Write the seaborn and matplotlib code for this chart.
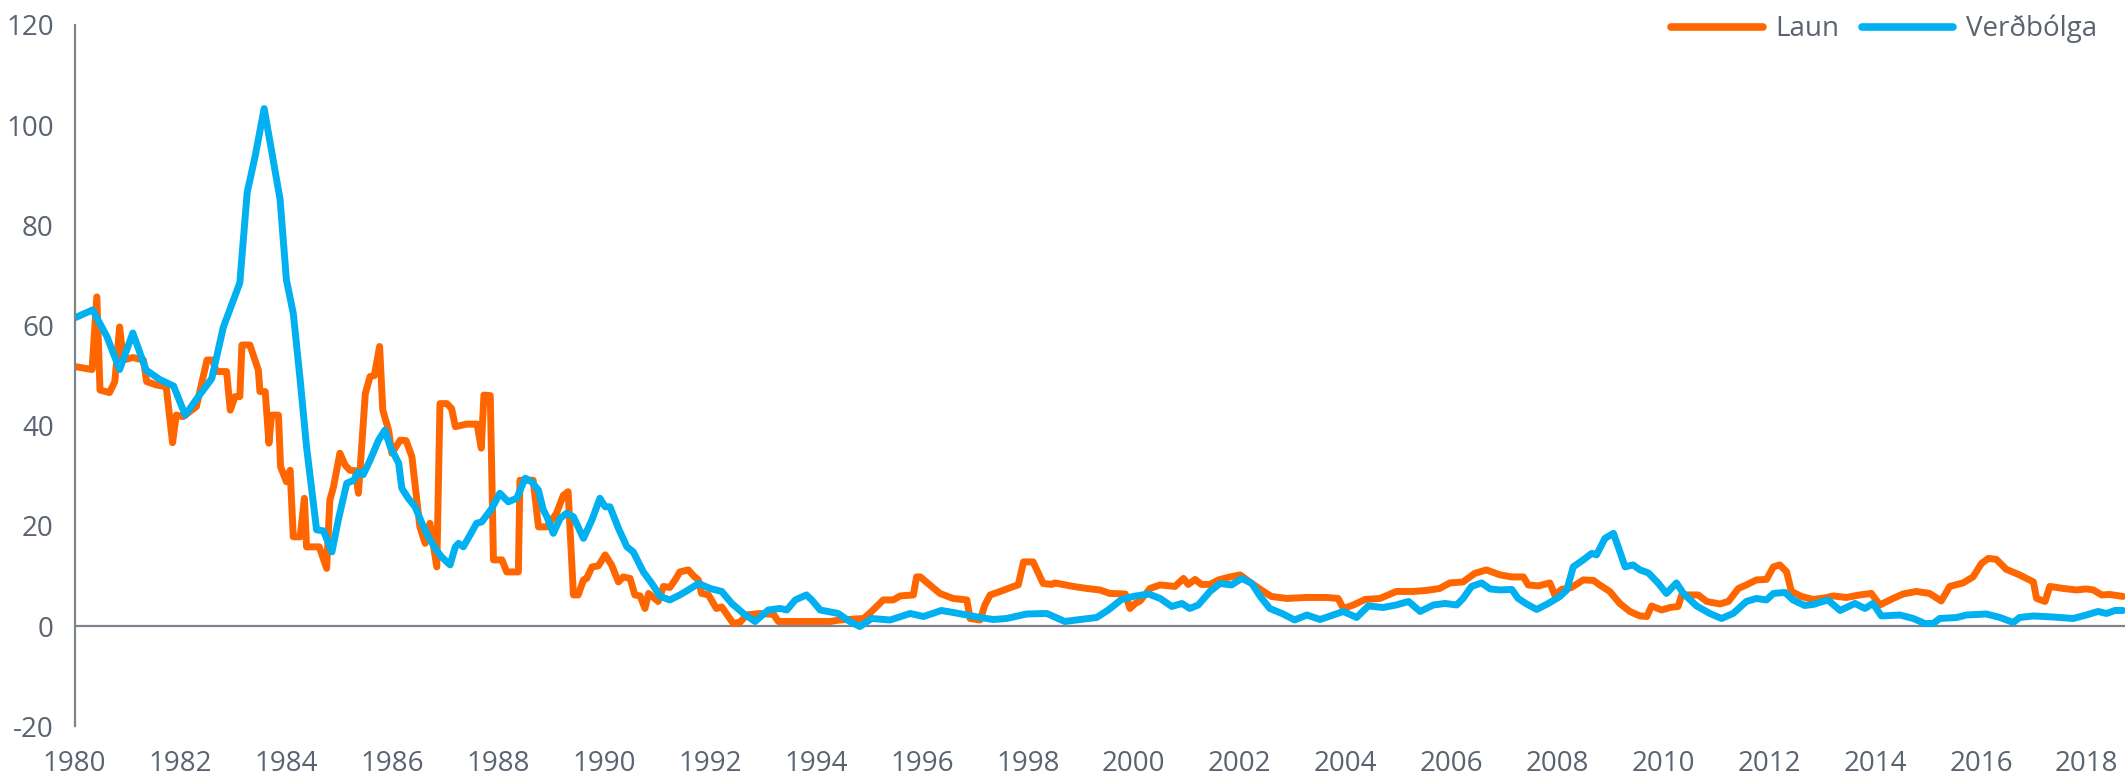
# Laun og verðbólga 1980-2018 (ársbreyting, %)
import pandas as pd
import matplotlib.pyplot as plt
import seaborn as sns

# --- data ---
laun_year = [
    1980.00, 1980.33, 1980.42, 1980.48, 1980.66, 1980.76, 1980.85, 1980.92, 1981.10, 1981.30,
    1981.36, 1981.55, 1981.73, 1981.85, 1981.92, 1982.05, 1982.30, 1982.50, 1982.60, 1982.68,
    1982.87, 1982.94, 1983.03, 1983.12, 1983.16, 1983.31, 1983.47, 1983.50, 1983.60, 1983.67,
    1983.72, 1983.85, 1983.89, 1984.00, 1984.07, 1984.13, 1984.26, 1984.34, 1984.38, 1984.62,
    1984.76, 1984.82, 1984.89, 1985.01, 1985.11, 1985.20, 1985.30, 1985.36, 1985.49, 1985.58,
    1985.66, 1985.76, 1985.82, 1985.93, 1985.99, 1986.15, 1986.26, 1986.37, 1986.52, 1986.62,
    1986.71, 1986.84, 1986.90, 1987.03, 1987.12, 1987.19, 1987.40, 1987.60, 1987.68, 1987.73,
    1987.85, 1987.91, 1988.07, 1988.16, 1988.38, 1988.41, 1988.66, 1988.76, 1988.92, 1989.10,
    1989.23, 1989.32, 1989.42, 1989.51, 1989.61, 1989.67, 1989.77, 1989.89, 1990.02, 1990.14,
    1990.27, 1990.36, 1990.49, 1990.58, 1990.68, 1990.77, 1990.84, 1991.02, 1991.12, 1991.24,
    1991.34, 1991.43, 1991.59, 1991.69, 1991.78, 1991.84, 1991.97, 1992.12, 1992.22, 1992.44,
    1992.57, 1992.69, 1992.94, 1993.20, 1993.29, 1993.70, 1994.27, 1994.45, 1994.90, 1995.05,
    1995.27, 1995.46, 1995.59, 1995.84, 1995.90, 1995.97, 1996.15, 1996.34, 1996.59, 1996.85,
    1996.91, 1997.10, 1997.19, 1997.29, 1997.48, 1997.73, 1997.82, 1997.92, 1998.10, 1998.29,
    1998.45, 1998.51, 1998.86, 1999.11, 1999.36, 1999.55, 1999.84, 1999.93, 2000.03, 2000.12,
    2000.31, 2000.50, 2000.78, 2000.94, 2001.03, 2001.16, 2001.28, 2001.44, 2001.60, 2001.82,
    2002.01, 2002.23, 2002.45, 2002.60, 2002.89, 2003.27, 2003.64, 2003.86, 2003.96, 2004.15,
    2004.37, 2004.65, 2004.96, 2005.28, 2005.53, 2005.78, 2005.97, 2006.22, 2006.44, 2006.66,
    2006.92, 2007.14, 2007.36, 2007.45, 2007.64, 2007.86, 2007.95, 2008.08, 2008.27, 2008.49,
    2008.68, 2008.80, 2008.99, 2009.18, 2009.37, 2009.56, 2009.69, 2009.78, 2009.97, 2010.13,
    2010.28, 2010.35, 2010.66, 2010.82, 2011.07, 2011.23, 2011.42, 2011.57, 2011.76, 2011.95,
    2012.08, 2012.20, 2012.33, 2012.42, 2012.61, 2012.83, 2013.05, 2013.21, 2013.46, 2013.71,
    2013.93, 2014.09, 2014.34, 2014.53, 2014.78, 2015.03, 2015.25, 2015.41, 2015.66, 2015.85,
    2016.01, 2016.14, 2016.29, 2016.48, 2016.73, 2016.99, 2017.05, 2017.21, 2017.30, 2017.55,
    2017.80, 2017.99, 2018.12, 2018.28, 2018.43, 2018.68,
]
laun_value = [
    51.8, 51.2, 65.7, 47.1, 46.6, 48.8, 59.7, 53.1, 53.6, 53.1,
    48.8, 48.1, 47.8, 36.6, 42.1, 41.8, 43.8, 53.1, 53.1, 50.8,
    50.8, 43.1, 45.8, 45.8, 56.1, 56.1, 51.1, 46.8, 46.8, 36.5,
    42.1, 42.1, 31.8, 28.8, 31.1, 17.8, 17.8, 25.5, 15.8, 15.8,
    11.5, 25.1, 27.8, 34.5, 32.1, 31.1, 31.0, 26.5, 46.4, 49.8,
    50.0, 55.8, 43.1, 39.1, 34.5, 37.1, 37.0, 33.8, 19.8, 16.5,
    20.5, 11.8, 44.4, 44.4, 43.4, 39.8, 40.3, 40.3, 35.5, 46.1,
    46.0, 13.2, 13.2, 10.8, 10.8, 29.1, 29.1, 19.8, 19.8, 22.5,
    26.1, 26.8, 6.2, 6.2, 9.2, 9.5, 11.8, 12.0, 14.2, 12.2,
    8.8, 9.8, 9.5, 6.2, 6.0, 3.5, 6.5, 4.9, 7.9, 7.7,
    9.2, 10.8, 11.2, 10.0, 9.2, 6.5, 6.2, 3.5, 3.8, 0.5,
    0.8, 2.2, 2.5, 2.3, 0.9, 0.9, 0.9, 1.2, 1.5, 2.9,
    5.2, 5.2, 6.0, 6.2, 9.8, 9.8, 8.2, 6.5, 5.5, 5.2,
    1.5, 1.2, 4.2, 6.2, 6.9, 7.9, 8.2, 12.8, 12.8, 8.5,
    8.3, 8.6, 7.9, 7.5, 7.2, 6.5, 6.4, 3.5, 4.5, 5.0,
    7.5, 8.2, 7.9, 9.5, 8.3, 9.3, 8.3, 8.3, 9.2, 9.8,
    10.2, 8.5, 6.9, 5.9, 5.5, 5.7, 5.7, 5.5, 3.5, 4.2,
    5.3, 5.5, 6.9, 6.9, 7.1, 7.5, 8.6, 8.8, 10.5, 11.2,
    10.2, 9.8, 9.8, 8.2, 8.0, 8.6, 6.2, 7.3, 7.7, 9.2,
    9.1, 8.2, 6.9, 4.5, 2.9, 2.0, 1.9, 4.0, 3.2, 3.7,
    3.9, 6.2, 6.2, 4.9, 4.4, 4.9, 7.5, 8.2, 9.2, 9.3,
    11.8, 12.2, 10.8, 6.9, 5.9, 5.3, 5.6, 6.0, 5.7, 6.2,
    6.5, 4.2, 5.5, 6.4, 6.9, 6.5, 5.0, 7.9, 8.6, 9.8,
    12.5, 13.5, 13.3, 11.3, 10.2, 8.8, 5.5, 4.9, 7.9, 7.5,
    7.2, 7.4, 7.2, 6.2, 6.3, 5.9,
]

verdbolga_year = [
    1980.00, 1980.34, 1980.61, 1980.85, 1981.10, 1981.35, 1981.61, 1981.87, 1982.09, 1982.31,
    1982.59, 1982.81, 1983.00, 1983.12, 1983.26, 1983.41, 1983.58, 1983.88, 1984.00, 1984.13,
    1984.26, 1984.38, 1984.57, 1984.70, 1984.86, 1984.98, 1985.14, 1985.27, 1985.36, 1985.45,
    1985.58, 1985.74, 1985.86, 1985.96, 1986.12, 1986.18, 1986.30, 1986.43, 1986.56, 1986.68,
    1986.81, 1986.93, 1987.09, 1987.19, 1987.25, 1987.34, 1987.47, 1987.59, 1987.69, 1987.88,
    1988.03, 1988.19, 1988.35, 1988.51, 1988.63, 1988.76, 1988.85, 1988.92, 1989.04, 1989.17,
    1989.29, 1989.42, 1989.61, 1989.77, 1989.92, 1990.02, 1990.11, 1990.27, 1990.43, 1990.55,
    1990.74, 1990.90, 1991.06, 1991.24, 1991.43, 1991.59, 1991.78, 1992.00, 1992.22, 1992.41,
    1992.63, 1992.85, 1993.10, 1993.32, 1993.45, 1993.61, 1993.82, 1993.92, 1994.08, 1994.42,
    1994.64, 1994.83, 1995.05, 1995.40, 1995.78, 1996.03, 1996.37, 1996.59, 1996.85, 1997.10,
    1997.35, 1997.60, 1997.98, 1998.36, 1998.70, 1998.99, 1999.30, 1999.52, 1999.77, 1999.99,
    2000.28, 2000.50, 2000.72, 2000.91, 2001.06, 2001.22, 2001.44, 2001.63, 2001.85, 2002.04,
    2002.23, 2002.39, 2002.57, 2002.82, 2003.04, 2003.27, 2003.52, 2003.77, 2003.96, 2004.21,
    2004.43, 2004.71, 2004.96, 2005.19, 2005.41, 2005.66, 2005.88, 2006.10, 2006.22, 2006.38,
    2006.57, 2006.73, 2006.92, 2007.14, 2007.26, 2007.42, 2007.61, 2007.83, 2008.05, 2008.18,
    2008.30, 2008.49, 2008.65, 2008.74, 2008.90, 2009.06, 2009.15, 2009.28, 2009.43, 2009.56,
    2009.72, 2009.91, 2010.06, 2010.25, 2010.38, 2010.63, 2010.88, 2011.10, 2011.32, 2011.57,
    2011.76, 2011.95, 2012.08, 2012.30, 2012.45, 2012.67, 2012.83, 2013.11, 2013.34, 2013.62,
    2013.81, 2013.96, 2014.12, 2014.47, 2014.72, 2014.94, 2015.10, 2015.22, 2015.54, 2015.73,
    2016.10, 2016.36, 2016.61, 2016.73, 2016.99, 2017.36, 2017.74, 2017.99, 2018.21, 2018.37,
    2018.53, 2018.68,
]
verdbolga_value = [
    61.5, 63.1, 57.8, 51.2, 58.5, 51.1, 49.2, 47.9, 42.1, 45.4,
    49.4, 59.7, 65.1, 68.5, 86.6, 93.8, 103.3, 85.2, 69.1, 62.4,
    49.1, 35.8, 19.2, 19.0, 14.8, 21.2, 28.5, 29.1, 30.8, 30.2,
    33.1, 37.1, 39.1, 35.8, 32.5, 27.5, 25.5, 23.8, 20.5, 17.8,
    15.5, 13.8, 12.2, 15.8, 16.5, 15.8, 18.2, 20.5, 20.8, 23.5,
    26.5, 24.8, 25.5, 29.5, 28.8, 27.1, 23.2, 21.8, 18.5, 21.5,
    22.5, 21.8, 17.5, 21.2, 25.5, 23.8, 23.8, 19.5, 15.8, 14.8,
    10.8, 8.5, 5.9, 5.2, 6.2, 7.2, 8.5, 7.5, 6.9, 4.5,
    2.5, 0.9, 3.2, 3.5, 3.2, 5.2, 6.2, 5.2, 3.2, 2.5,
    0.9, -0.1, 1.5, 1.2, 2.5, 1.9, 3.1, 2.7, 2.2, 1.7,
    1.3, 1.5, 2.4, 2.5, 0.9, 1.3, 1.7, 3.2, 5.3, 5.9,
    6.4, 5.5, 3.9, 4.5, 3.5, 4.2, 6.9, 8.5, 8.2, 9.5,
    8.5, 5.9, 3.5, 2.4, 1.2, 2.2, 1.3, 2.2, 2.9, 1.7,
    4.0, 3.7, 4.2, 4.9, 2.9, 4.2, 4.5, 4.2, 5.5, 7.9,
    8.6, 7.4, 7.2, 7.3, 5.5, 4.4, 3.3, 4.5, 5.9, 7.2,
    11.8, 13.2, 14.5, 14.2, 17.5, 18.5, 15.8, 11.8, 12.2, 11.2,
    10.6, 8.5, 6.5, 8.6, 6.5, 4.0, 2.5, 1.5, 2.5, 4.9,
    5.5, 5.2, 6.5, 6.7, 5.2, 4.1, 4.3, 5.2, 3.1, 4.5,
    3.5, 4.5, 2.0, 2.2, 1.5, 0.5, 0.5, 1.5, 1.7, 2.2,
    2.4, 1.7, 0.7, 1.7, 2.0, 1.8, 1.5, 2.2, 2.9, 2.5,
    3.1, 3.1,
]

series_names = ['Laun', 'Verðbólga']
series_colors = {'Laun': '#FF6600', 'Verðbólga': '#00B0F0'}
y_ticks = [-20, 0, 20, 40, 60, 80, 100, 120]
x_ticks = list(range(1980, 2019, 2))

TEXT_COLOR = '#5a6470'
AXIS_COLOR = '#7d848c'

# long-form table for seaborn
df = pd.concat([
    pd.DataFrame({'ar': laun_year, 'gildi': laun_value, 'rod': series_names[0]}),
    pd.DataFrame({'ar': verdbolga_year, 'gildi': verdbolga_value, 'rod': series_names[1]}),
], ignore_index=True)

sns.set_theme(style='white')
plt.rcParams['font.family'] = ['Open Sans', 'DejaVu Sans']
plt.rcParams['axes.unicode_minus'] = False

fig = plt.figure(figsize=(21.25, 7.79), dpi=100)
ax = fig.add_axes([0.0351, 0.0678, 0.9649, 0.9002])

sns.lineplot(data=df, x='ar', y='gildi', hue='rod', palette=series_colors,
             hue_order=series_names, estimator=None, sort=False,
             linewidth=5.0, ax=ax, legend=False)

# zero line
ax.axhline(0, color=AXIS_COLOR, linewidth=1.6, zorder=1)

ax.set_xlim(1980, 2018.72)
ax.set_ylim(-20, 120)
ax.set_xticks(x_ticks)
ax.set_yticks(y_ticks)
ax.set_xlabel('')
ax.set_ylabel('')
ax.tick_params(axis='both', length=0, labelsize=20, colors=TEXT_COLOR)
ax.tick_params(axis='y', pad=15)
ax.tick_params(axis='x', pad=17)

for side in ['top', 'right', 'bottom']:
    ax.spines[side].set_visible(False)
ax.spines['left'].set_color(AXIS_COLOR)
ax.spines['left'].set_linewidth(1.6)

# legend in the top right corner
handles = [plt.Line2D([], [], color=series_colors[n], linewidth=5.5) for n in series_names]
leg = fig.legend(handles, series_names, loc='center right',
                 bbox_to_anchor=(2097 / 2125, 1 - 29 / 779), ncol=2, frameon=False,
                 fontsize=20, handlelength=3.3, handletextpad=0.45,
                 columnspacing=0.8, borderpad=0, borderaxespad=0)
for t in leg.get_texts():
    t.set_color(TEXT_COLOR)

fig.savefig('out.png', dpi=100)
